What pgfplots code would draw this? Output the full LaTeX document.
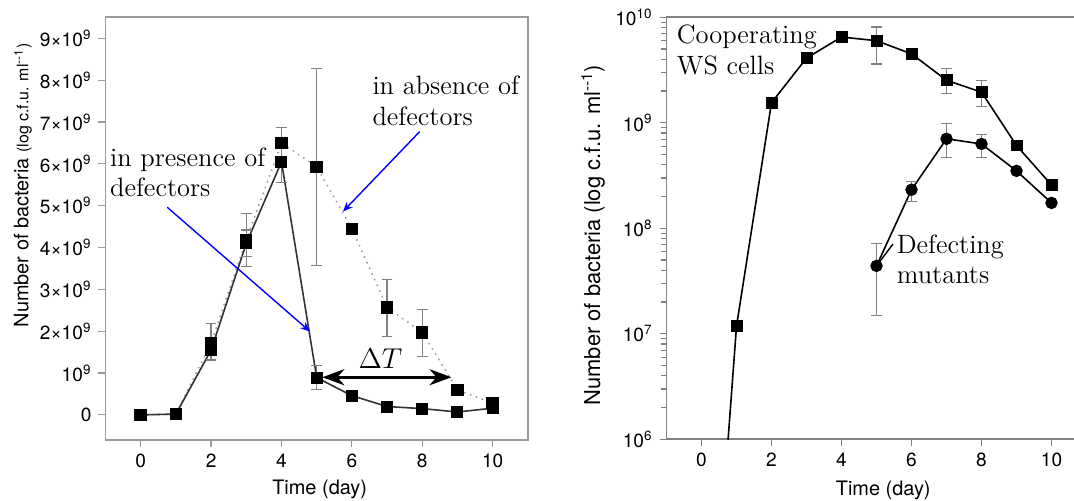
\documentclass[border=0pt]{standalone}
\usepackage{pgfplots}
\pgfplotsset{compat=1.18}
\usepackage{fontspec}
\newfontfamily\helv{TeX Gyre Heros}
\usetikzlibrary{arrows.meta}

\definecolor{errgray}{HTML}{808080}
\definecolor{framegray}{HTML}{9A9A9A}
\definecolor{linedark}{HTML}{333333}

\pgfplotsset{
  panel/.style={
    scale only axis, anchor=south west,
    tick align=outside, xtick pos=bottom, ytick pos=left,
    major tick length=3.5bp,
    tick style={framegray, line width=0.6bp},
    axis line style={framegray, line width=0.8bp},
    ticklabel style={font=\helv\fontsize{9.6}{12}\selectfont},
    label style={font=\helv\fontsize{10}{12}\selectfont},
    xtick={0,2,4,6,8,10}, xticklabels={0,2,4,6,8,10},
    xlabel={Time (day)},
    unbounded coords=jump,
  },
  ebar/.style={errgray, line width=0.6bp, mark=-, mark size=2.7bp,
    mark options={errgray, line width=0.6bp}, forget plot},
}
\tikzset{annot/.style={font=\fontsize{13.3}{16}\selectfont, anchor=base west, inner sep=0pt}}

\begin{document}
\begin{tikzpicture}
\path[use as bounding box] (-52.75bp,-30.5bp) rectangle (484.25bp,220bp);

% left panel: linear counts, units of 1e9
\begin{axis}[panel, at={(0,0)},
  width=211.2bp, height=211.5bp,
  xmin=-1, xmax=11, ymin=-0.6, ymax=9.51,
  ytick={0,1,2,3,4,5,6,7,8,9},
  yticklabels={0,10\textsuperscript{9},2×10\textsuperscript{9},3×10\textsuperscript{9},4×10\textsuperscript{9},5×10\textsuperscript{9},6×10\textsuperscript{9},7×10\textsuperscript{9},8×10\textsuperscript{9},9×10\textsuperscript{9}},
  ylabel={Number of bacteria {\fontsize{8}{9}\selectfont(log c.f.u. ml\textsuperscript{--1})}},
  xlabel style={at={(axis description cs:0.507,-0.116)}, anchor=center},
  ylabel style={at={(axis description cs:-0.196,0.602)}, anchor=center},
]
% error bars
\addplot[ebar] coordinates {
  (2,1.31) (2,2.19) (2,nan)
  (3,3.55) (3,4.82) (3,nan)
  (3,3.78) (3,4.42) (3,nan)
  (4,5.55) (4,6.87) (4,nan)
  (5,3.58) (5,8.28) (5,nan)
  (5,0.60) (5,1.18) (5,nan)
  (7,1.87) (7,3.24) (7,nan)
  (8,1.39) (8,2.52)
};
% in absence of defectors
\addplot[framegray, line width=1bp, line cap=round, dash pattern=on 0.1bp off 3bp,
  mark=square*, mark size=2.6bp, mark options={solid, black, fill=black}] coordinates {
  (0,0) (1,0.02) (2,1.72) (3,4.18) (4,6.50) (5,5.93) (6,4.45) (7,2.57) (8,1.97) (9,0.60) (10,0.28)
};
% in presence of defectors
\addplot[linedark, line width=0.8bp,
  mark=square*, mark size=2.6bp, mark options={black, fill=black}] coordinates {
  (0,0) (1,0.02) (2,1.55) (3,4.10) (4,6.05) (5,0.89) (6,0.46) (7,0.20) (8,0.15) (9,0.07) (10,0.16)
};

\node[annot] at (axis cs:6.575,7.646) {in absence of};
\node[annot] at (axis cs:6.575,6.906) {defectors};
\node[annot] at (axis cs:-0.88,5.93) {in presence of};
\node[annot] at (axis cs:-0.88,5.22) {defectors};
\draw[blue, line width=0.7bp, -{Stealth[length=5bp,width=4bp]}]
  (axis cs:7.925,6.77) -- (axis cs:5.744,4.858);
\draw[blue, line width=0.7bp, -{Stealth[length=5bp,width=4bp]}]
  (axis cs:0.754,4.963) -- (axis cs:4.814,1.99);
\draw[black, line width=1.5bp,
  {Stealth[length=11bp,width=8bp,inset=3.5bp]}-{Stealth[length=11bp,width=8bp,inset=3.5bp]}]
  (axis cs:5.16,0.9) -- (axis cs:8.83,0.9);
\node[font=\fontsize{13.3}{16}\selectfont, anchor=base, inner sep=0pt] at (axis cs:6.81,1.12) {$\Delta T$};
\end{axis}

% right panel: log counts
\begin{axis}[panel, at={(280.5bp,0.35bp)},
  width=210bp, height=211bp,
  xmin=-1, xmax=11, ymode=log, ymin=1e6, ymax=1e10,
  ytick={1e6,1e7,1e8,1e9,1e10},
  yticklabels={10\textsuperscript{6},10\textsuperscript{7},10\textsuperscript{8},10\textsuperscript{9},10\textsuperscript{10}},
  ylabel={Number of bacteria (log c.f.u. ml\textsuperscript{--1})},
  axis line style={gray, line width=0.8bp},
  tick style={gray, line width=0.6bp},
  xlabel style={at={(axis description cs:0.516,-0.12)}, anchor=center},
  ylabel style={at={(axis description cs:-0.175,0.484)}, anchor=center,
    font=\helv\fontsize{11}{13}\selectfont},
]
\addplot[ebar] coordinates {
  (5,3.6e9) (5,8.1e9) (5,nan)
  (7,1.9e9) (7,3.25e9) (7,nan)
  (8,1.42e9) (8,2.5e9) (8,nan)
  (5,1.5e7) (5,7.2e7) (5,nan)
  (6,1.8e8) (6,2.8e8) (6,nan)
  (7,4.7e8) (7,9.8e8) (7,nan)
  (8,4.7e8) (8,7.8e8)
};
% cooperating WS cells: the day-0 count lies below the axis
\addplot[black, line width=0.8bp, mark=none] coordinates {
  (0,4e2) (1,1.18e7) (2,1.55e9) (3,4.1e9) (4,6.5e9) (5,6.0e9) (6,4.5e9) (7,2.53e9) (8,1.95e9) (9,6.1e8) (10,2.57e8)
};
\addplot[only marks, mark=square*, mark size=2.7bp, mark options={black, fill=black}] coordinates {
  (1,1.18e7) (2,1.55e9) (3,4.1e9) (4,6.5e9) (5,6.0e9) (6,4.5e9) (7,2.53e9) (8,1.95e9) (9,6.1e8) (10,2.57e8)
};
% defecting mutants
\addplot[black, line width=0.8bp, mark=*, mark size=2.7bp, mark options={fill=black}] coordinates {
  (5,4.4e7) (6,2.32e8) (7,7.05e8) (8,6.3e8) (9,3.5e8) (10,1.74e8)
};
\draw[black, line width=0.7bp] (axis cs:5,4.4e7) -- (axis cs:5.47,7.1e7);
\node[annot] at (axis cs:-0.714,5.6e9) {Cooperating};
\node[annot] at (axis cs:-0.714,2.88e9) {WS cells};
\node[annot] at (axis cs:5.57,5.77e7) {Defecting};
\node[annot] at (axis cs:5.57,3.0e7) {mutants};
\end{axis}
\end{tikzpicture}
\end{document}
